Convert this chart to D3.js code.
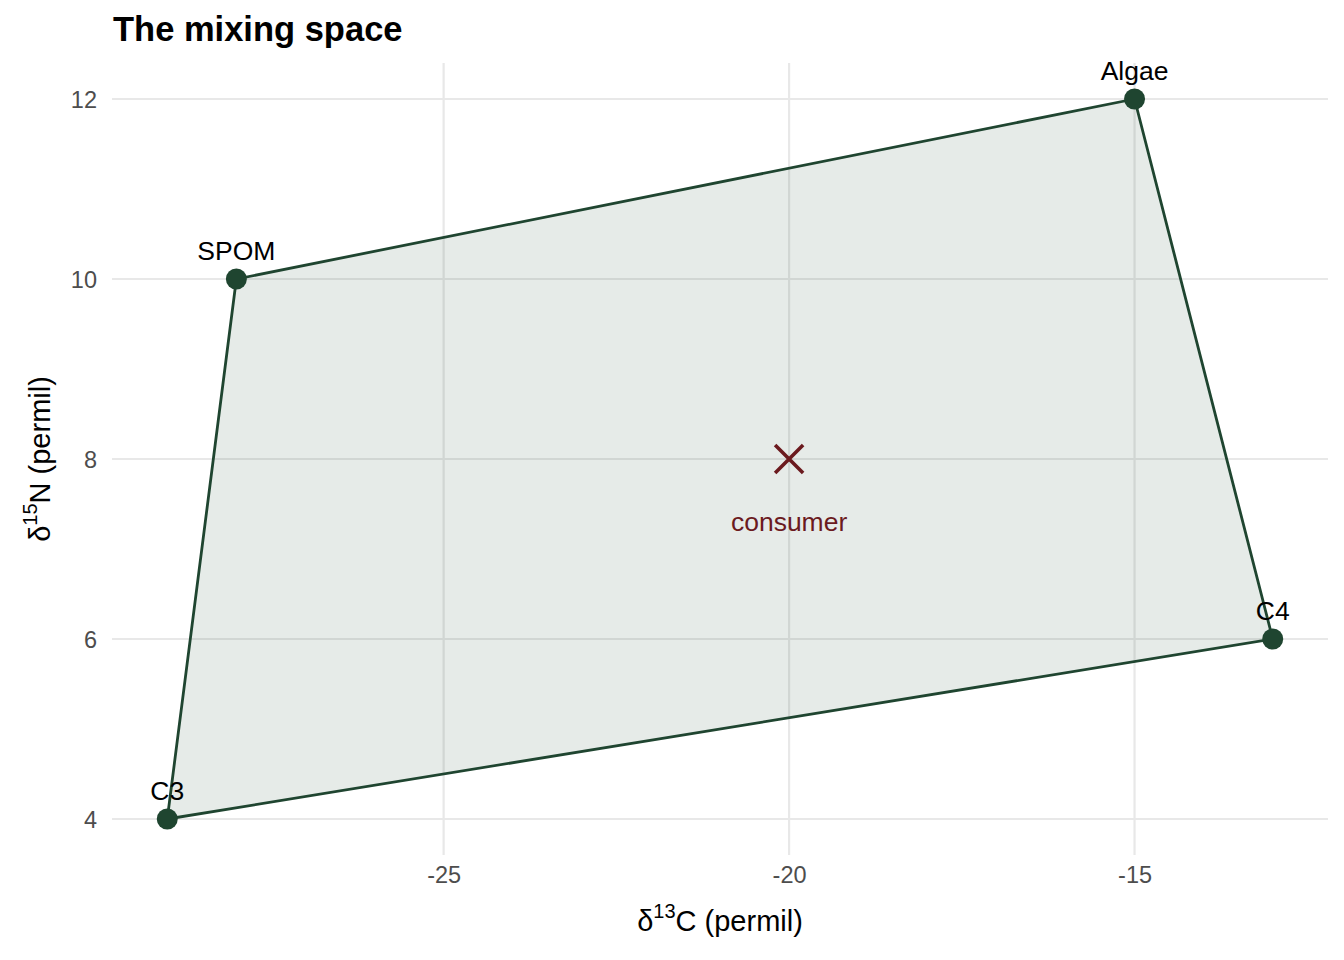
<!DOCTYPE html>
<html>
<head>
<meta charset="utf-8">
<script src="https://cdn.jsdelivr.net/npm/d3@7"></script>
<style>
  body { margin: 0; background: #fff; }
  text { font-family: "Liberation Sans", Arial, sans-serif; }
</style>
</head>
<body>
<div id="chart"></div>
<script>
// dados das fontes (mistura) e do consumidor
const sources = ["C3", "SPOM", "Algae", "C4"];
const d13C = [-29, -28, -15, -13];
const d15N = [4, 10, 12, 6];
const consumer = {name: "consumer", d13C: -20, d15N: 8};
const xTicks = [-25, -20, -15];
const yTicks = [4, 6, 8, 10, 12];

const W = 1344, H = 960;
const margin = {top: 63, right: 16, bottom: 105, left: 112};

const svg = d3.select("#chart").append("svg")
    .attr("width", W).attr("height", H);

const x = d3.scaleLinear().domain([-29.8, -12.2]).range([margin.left, W - margin.right]);
const y = d3.scaleLinear().domain([3.6, 12.4]).range([H - margin.bottom, margin.top]);

// grade
const grid = svg.append("g");
grid.selectAll(".gx").data(xTicks).join("line")
    .attr("x1", d => x(d)).attr("x2", d => x(d))
    .attr("y1", margin.top).attr("y2", H - margin.bottom)
    .attr("stroke", "#e8e8e8").attr("stroke-width", 2.2);
grid.selectAll(".gy").data(yTicks).join("line")
    .attr("x1", margin.left).attr("x2", W - margin.right)
    .attr("y1", d => y(d)).attr("y2", d => y(d))
    .attr("stroke", "#e8e8e8").attr("stroke-width", 2.2);

// eixos (só os rótulos), com hífen normal no sinal
const fmt = d => String(d);
const xAxis = svg.append("g")
    .attr("transform", `translate(0,${H - margin.bottom})`)
    .call(d3.axisBottom(x).tickValues(xTicks).tickFormat(fmt).tickSize(0).tickPadding(11));
const yAxis = svg.append("g")
    .attr("transform", `translate(${margin.left},0)`)
    .call(d3.axisLeft(y).tickValues(yTicks).tickFormat(fmt).tickSize(0).tickPadding(15));
[xAxis, yAxis].forEach(a => {
  a.select(".domain").remove();
  a.attr("font-size", null).attr("font-family", null);
  a.selectAll("text").attr("fill", "#4d4d4d").style("font-size", "23.5px");
});
yAxis.selectAll("text").attr("dy", "0.35em");

// polígono
const pts = sources.map((s, i) => [x(d13C[i]), y(d15N[i])]);
svg.append("path")
    .attr("d", d3.line()(pts) + "Z")
    .attr("fill", "#1f4530").attr("fill-opacity", 0.11)
    .attr("stroke", "#1f4530").attr("stroke-width", 2.8)
    .attr("stroke-linejoin", "round");

svg.selectAll(".pt").data(sources).join("circle")
    .attr("cx", (d, i) => x(d13C[i])).attr("cy", (d, i) => y(d15N[i]))
    .attr("r", 10.5).attr("fill", "#1f4530");

svg.selectAll(".lab").data(sources).join("text")
    .attr("x", (d, i) => x(d13C[i])).attr("y", (d, i) => y(d15N[i]) - 19)
    .attr("text-anchor", "middle").style("font-size", "26.5px").attr("fill", "#000")
    .text(d => d);

// consumidor
const cx = x(consumer.d13C), cy = y(consumer.d15N), s = 14;
svg.append("path")
    .attr("d", `M${cx - s},${cy - s}L${cx + s},${cy + s}M${cx - s},${cy + s}L${cx + s},${cy - s}`)
    .attr("stroke", "#6b1a1e").attr("stroke-width", 3.6);
svg.append("text")
    .attr("x", cx).attr("y", cy + 72)
    .attr("text-anchor", "middle").style("font-size", "26.5px").attr("fill", "#6b1a1e")
    .text(consumer.name);

// títulos
svg.append("text").attr("x", 113).attr("y", 41)
    .style("font-size", "34.5px").style("font-weight", "bold").text("The mixing space");

const xt = svg.append("text").attr("x", (margin.left + W - margin.right) / 2).attr("y", 931)
    .attr("text-anchor", "middle").style("font-size", "29px").attr("fill", "#000");
xt.append("tspan").text("δ");
xt.append("tspan").attr("dy", -13).style("font-size", "20px").text("13");
xt.append("tspan").attr("dy", 13).text("C (permil)");

const yt = svg.append("text")
    .attr("transform", `translate(50,${(margin.top + H - margin.bottom) / 2}) rotate(-90)`)
    .attr("text-anchor", "middle").style("font-size", "29px").attr("fill", "#000");
yt.append("tspan").text("δ");
yt.append("tspan").attr("dy", -13).style("font-size", "20px").text("15");
yt.append("tspan").attr("dy", 13).text("N (permil)");
</script>
</body>
</html>
